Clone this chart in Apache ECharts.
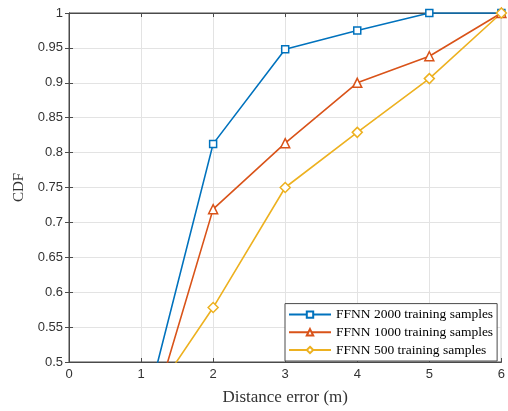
<!DOCTYPE html>
<html>
<head>
<meta charset="utf-8">
<script src="https://cdn.jsdelivr.net/npm/echarts@6/dist/echarts.min.js"></script>
<style>
  html, body { margin: 0; padding: 0; background: #fff; }
  #chart { width: 508px; height: 411px; }
</style>
</head>
<body>
<div id="chart"></div>
<script>
// Distance error (m) at which each CDF is evaluated
const distanceError = [1, 2, 3, 4, 5, 6];

// CDF of the localisation error for each training-set size
const cdf2000 = [0.406, 0.8125, 0.948, 0.975, 1.0, 1.0];
const cdf1000 = [0.372, 0.719, 0.8135, 0.900, 0.938, 1.0];
const cdf500  = [0.425, 0.578, 0.750, 0.829, 0.906, 1.0];

const seriesNames = [
  'FFNN 2000 training samples',
  'FFNN 1000 training samples',
  'FFNN 500 training samples'
];

const xTicks = [0, 1, 2, 3, 4, 5, 6];
const yMin = 0.5, yMax = 1, yStep = 0.05;

const pairs = (ys) => distanceError.map((x, i) => [x, ys[i]]);

const serif = '"Liberation Serif", "DejaVu Serif", serif';
const sans = '"Liberation Sans", Arial, sans-serif';
const axisColor = '#4a4a4a';
const textColor = '#333333';

const chart = echarts.init(document.getElementById('chart'));

function mkSeries(name, data, color, symbol, size) {
  return {
    name: name,
    type: 'line',
    data: data,
    symbol: symbol,
    symbolSize: size,
    clip: true,
    lineStyle: { color: color, width: 1.6 },
    itemStyle: { color: '#ffffff', borderColor: color, borderWidth: 1.5 },
    emphasis: { disabled: true },
    z: 3
  };
}

const tickStyle = { show: true, inside: true, length: 4, lineStyle: { color: axisColor } };

chart.setOption({
  animation: false,
  backgroundColor: '#ffffff',
  grid: {
    left: 69, right: 5, top: 13, bottom: 43,
    show: true, borderColor: axisColor, borderWidth: 1, backgroundColor: 'transparent'
  },
  legend: {
    left: 285, bottom: 50,
    orient: 'vertical',
    backgroundColor: '#ffffff',
    borderColor: axisColor,
    borderWidth: 1,
    padding: [4, 4, 4, 3],
    itemGap: 3.7,
    itemWidth: 42,
    itemHeight: 8,
    textStyle: { fontFamily: serif, fontSize: 13.5, color: '#000', lineHeight: 14 },
    data: seriesNames
  },
  xAxis: [{
    type: 'value',
    min: xTicks[0], max: xTicks[xTicks.length - 1], interval: 1,
    name: 'Distance error (m)',
    nameLocation: 'middle', nameGap: 27,
    nameTextStyle: { fontFamily: serif, fontSize: 17, color: textColor },
    axisLine: { show: true, lineStyle: { color: axisColor } },
    axisTick: tickStyle,
    axisLabel: { fontFamily: sans, fontSize: 13, color: textColor, margin: 6 },
    splitLine: { show: true, lineStyle: { color: '#e3e3e3', width: 1 } }
  }, {
    type: 'value', position: 'top',
    min: xTicks[0], max: xTicks[xTicks.length - 1], interval: 1,
    axisLine: { show: true, lineStyle: { color: axisColor } },
    axisTick: tickStyle,
    axisLabel: { show: false },
    splitLine: { show: false }
  }],
  yAxis: [{
    type: 'value',
    min: yMin, max: yMax, interval: yStep,
    name: 'CDF',
    nameLocation: 'middle', nameGap: 36, nameRotate: 90,
    nameTextStyle: { fontFamily: serif, fontSize: 15, color: textColor },
    axisLine: { show: true, lineStyle: { color: axisColor } },
    axisTick: tickStyle,
    axisLabel: {
      fontFamily: sans, fontSize: 13, color: textColor, margin: 6,
      formatter: (v) => String(+v.toFixed(2))
    },
    splitLine: { show: true, lineStyle: { color: '#e3e3e3', width: 1 } }
  }, {
    type: 'value', position: 'right',
    min: yMin, max: yMax, interval: yStep,
    axisLine: { show: true, lineStyle: { color: axisColor } },
    axisTick: tickStyle,
    axisLabel: { show: false },
    splitLine: { show: false }
  }],
  series: [
    mkSeries(seriesNames[0], pairs(cdf2000), '#0072BD', 'rect', 7),
    mkSeries(seriesNames[1], pairs(cdf1000), '#D95319', 'triangle', 9),
    mkSeries(seriesNames[2], pairs(cdf500), '#EDB120', 'diamond', 10)
  ]
});
</script>
</body>
</html>
